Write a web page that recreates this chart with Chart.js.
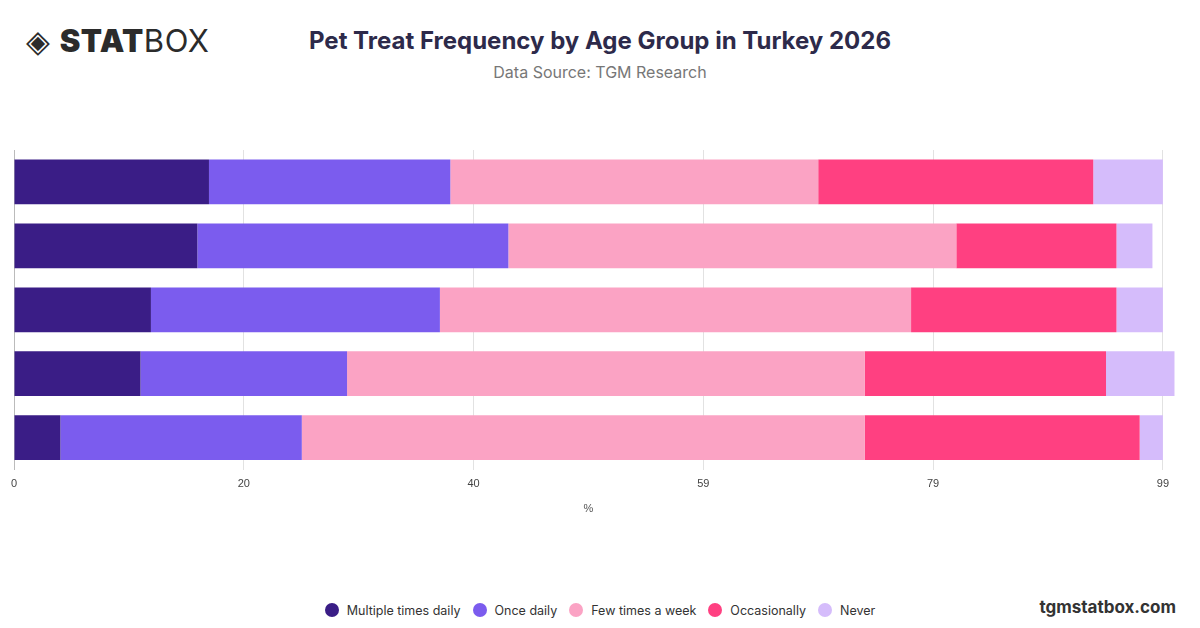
<!DOCTYPE html>
<html>
<head>
<meta charset="utf-8">
<script src="https://cdn.jsdelivr.net/npm/chart.js@4"></script>
<style>
  body { margin:0; width:1200px; height:628px; background:#fff; font-family:Inter, "Open Sans", sans-serif; position:relative; overflow:hidden; }
  #logo { position:absolute; left:26px; top:22px; font-size:31px; color:#2b2b2b; letter-spacing:0.5px; }
  #logo b { font-weight:900; }
  #title { position:absolute; left:0; width:1200px; text-align:center; top:26px; font-size:24px; font-weight:700; color:#2d2a4a; }
  #sub { position:absolute; left:0; width:1200px; text-align:center; top:62px; font-size:16px; color:#777; }
  #wrap { position:absolute; left:0; top:140px; width:1177px; height:380px; }
  #legend { position:absolute; left:0; width:1200px; top:603px; text-align:center; font-size:12.5px; color:#333; }
  #legend span { margin:0 6px; }
  #legend i { display:inline-block; width:14px; height:14px; border-radius:50%; vertical-align:-2px; margin-right:8px; }
  #brand { position:absolute; right:24px; top:597px; font-size:17px; font-weight:700; color:#333; }
</style>
</head>
<body>
<div id="logo">◈ <b>STAT</b>BOX</div>
<div id="title">Pet Treat Frequency by Age Group in Turkey 2026</div>
<div id="sub">Data Source: TGM Research</div>
<div id="wrap"><canvas id="chart"></canvas></div>
<div id="legend"></div>
<div id="brand">tgmstatbox.com</div>
<script>
// age groups (no labels shown on the picture)
const ageGroups = ['18-24', '25-34', '35-44', '45-54', '55+'];
const seriesNames = ['Multiple times daily', 'Once daily', 'Few times a week', 'Occasionally', 'Never'];
const multipleDaily = [16.8, 15.8, 11.8, 10.9, 4.0];
const onceDaily = [20.8, 26.8, 24.9, 17.8, 20.8];
const fewWeek = [31.7, 38.6, 40.6, 44.6, 48.5];
const occasionally = [23.7, 13.8, 17.7, 20.8, 23.7];
const never = [6.0, 3.1, 4.0, 5.9, 2.0];
const colors = ['#3a1d86', '#7b5cee', '#fba3c4', '#ff4081', '#d5bcfb'];
const axisMax = 99;

const allSeries = [multipleDaily, onceDaily, fewWeek, occasionally, never];

document.getElementById('legend').innerHTML = seriesNames.map((n, i) =>
  `<span><i style="background:${colors[i]}"></i>${n}</span>`).join('');

new Chart(document.getElementById('chart'), {
  type: 'bar',
  data: {
    labels: ageGroups,
    datasets: allSeries.map((d, i) => ({
      label: seriesNames[i],
      data: d,
      backgroundColor: colors[i],
      categoryPercentage: 0.7,
      barPercentage: 1,
      clip: false
    }))
  },
  options: {
    indexAxis: 'y',
    responsive: true,
    maintainAspectRatio: false,
    animation: false,
    layout: { padding: { left: 6, right: 0, top: 10 } },
    plugins: { legend: { display: false }, tooltip: { enabled: false } },
    scales: {
      x: {
        stacked: true,
        min: 0,
        max: axisMax,
        afterBuildTicks: axis => {
          axis.ticks = [0, 1, 2, 3, 4, 5].map(k => ({ value: axisMax * k / 5 }));
        },
        ticks: {
          callback: v => Math.round(v),
          color: '#444',
          font: { size: 11 },
          padding: 8
        },
        grid: { color: '#e2e2e2', drawTicks: false },
        border: { display: false },
        title: { display: true, text: '%', color: '#555', font: { size: 11 } }
      },
      y: {
        stacked: true,
        ticks: { display: false },
        grid: { display: false },
        border: { color: '#bbb' }
      }
    }
  }
});
</script>
</body>
</html>
